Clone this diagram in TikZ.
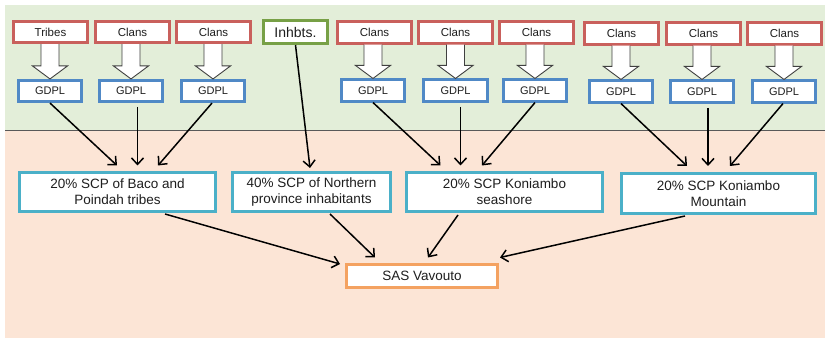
\documentclass[tikz,border=0pt]{standalone}
\usepackage{fontspec}
\setmainfont{Liberation Sans}
\usetikzlibrary{arrows.meta,calc}

\definecolor{bggreen}{HTML}{E3EED9}
\definecolor{bgorange}{HTML}{FCE5D6}
\definecolor{clanred}{HTML}{C9605C}
\definecolor{inhgreen}{HTML}{77A046}
\definecolor{gdplblue}{HTML}{5089C6}
\definecolor{scpcyan}{HTML}{4BB0C8}
\definecolor{sasorange}{HTML}{F4A261}
\definecolor{txt}{HTML}{1E1E1E}

\tikzset{
  box/.style={draw, fill=white, line width=2.6pt, inner sep=0pt, align=center, text=txt},
  clan/.style={box, draw=clanred, minimum width=74pt, minimum height=21.5pt, font=\fontsize{11.5}{13}\selectfont},
  inhab/.style={box, draw=inhgreen, minimum width=64pt, minimum height=23.5pt, font=\fontsize{14}{16}\selectfont},
  gdpl/.style={box, draw=gdplblue, minimum width=63.5pt, minimum height=21.5pt, font=\fontsize{11}{12}\selectfont},
  scp/.style={box, draw=scpcyan, minimum height=39.5pt, font=\fontsize{13.5}{16}\selectfont},
  sas/.style={box, draw=sasorange, minimum width=151.5pt, minimum height=23.5pt, font=\fontsize{13.5}{16}\selectfont},
  link/.style={draw=black, line width=1.5pt, -{Straight Barb[length=6.5pt,width=12pt,line width=1.5pt]}},
  blockarr/.style={draw=black!75, line width=0.9pt, fill=white},
}

% hollow block arrow from a clan box down to its GDPL box
\newcommand{\clanarrow}[2]{%
  \path[blockarr] let \p1=(#1.south), \p2=(#2.north) in
    (\x2-9pt,\y1) -- (\x2-9pt,\y2+13pt) -- (\x2-17.5pt,\y2+13pt) -- (\x2,\y2)
    -- (\x2+17.5pt,\y2+13pt) -- (\x2+9pt,\y2+13pt) -- (\x2+9pt,\y1);
}

\begin{document}
\begin{tikzpicture}[x=1pt,y=-1pt]
  \useasboundingbox (0,0) rectangle (825,339);
  \fill[white] (0,0) rectangle (825,339);
  % two background bands
  \fill[bggreen] (5,5) rectangle (825,131);
  \fill[bgorange] (5,131) rectangle (825,338);
  \draw[black!65, line width=1pt] (5,131) -- (825,131);

  % owners
  \node[clan] (r1) at (50.5,32) {Tribes};
  \node[clan] (r2) at (132.5,32) {Clans};
  \node[clan] (r3) at (213.5,32) {Clans};
  \node[inhab] (inh) at (295.5,32) {Inhbts.};
  \node[clan] (r4) at (374.5,32.5) {Clans};
  \node[clan] (r5) at (455.5,32.5) {Clans};
  \node[clan] (r6) at (536.5,32.5) {Clans};
  \node[clan] (r7) at (621.5,33.5) {Clans};
  \node[clan] (r8) at (703.5,33.5) {Clans};
  \node[clan] (r9) at (784.5,33.5) {Clans};

  % GDPL groups
  \node[gdpl] (g1) at (50,91) {GDPL};
  \node[gdpl] (g2) at (131,91) {GDPL};
  \node[gdpl] (g3) at (213,91) {GDPL};
  \node[gdpl] (g4) at (373,90.5) {GDPL};
  \node[gdpl] (g5) at (455.5,90.5) {GDPL};
  \node[gdpl] (g6) at (535,90.5) {GDPL};
  \node[gdpl] (g7) at (621,91.5) {GDPL};
  \node[gdpl] (g8) at (702,91.5) {GDPL};
  \node[gdpl] (g9) at (784,91.5) {GDPL};

  \foreach \i in {1,...,9} { \clanarrow{r\i}{g\i} }

  % companies
  \node[scp, minimum width=196pt] (m1) at (117.5,192) {20\% SCP of Baco and\\Poindah tribes};
  \node[scp, minimum width=158pt] (m2) at (311.5,192) {40\% SCP of Northern\\province inhabitants};
  \node[scp, minimum width=196pt] (m3) at (504.5,192) {20\% SCP Koniambo\\seashore};
  \node[scp, minimum width=194pt] (m4) at (718.5,193.5) {20\% SCP Koniambo\\Mountain};
  \node[sas] (sas) at (422,276) {SAS Vavouto};

  % start and end points of the links
  \coordinate (g2s) at (137.5,107);
  \coordinate (g5s) at (460.5,107);
  \coordinate (g8s) at (708,108);
  \coordinate (m1a) at (117,165.5);
  \coordinate (m1b) at (137.5,165.5);
  \coordinate (m1c) at (158,165.5);
  \coordinate (m2a) at (310,168);
  \coordinate (m3a) at (440.5,165.5);
  \coordinate (m3b) at (460.5,165.5);
  \coordinate (m3c) at (482,165.5);
  \coordinate (m4a) at (687,166);
  \coordinate (m4b) at (708,166);
  \coordinate (m4c) at (730,166);
  \coordinate (m1s) at (165,214);
  \coordinate (m2s) at (330,214);
  \coordinate (m3s) at (458,215);
  \coordinate (m4s) at (685,216);
  \coordinate (sa) at (340,264);
  \coordinate (sb) at (375,257.5);
  \coordinate (sc) at (428,257.5);
  \coordinate (sd) at (500,257.5);

  \draw[link] (g1.south) -- (m1a);
  \draw[link] (g2s) -- (m1b);
  \draw[link] ([xshift=-1pt]g3.south) -- (m1c);
  \draw[link] (inh.south) -- (m2a);
  \draw[link] (g4.south) -- (m3a);
  \draw[link] (g5s) -- (m3b);
  \draw[link] (g6.south) -- (m3c);
  \draw[link] (g7.south) -- (m4a);
  \draw[link] (g8s) -- (m4b);
  \draw[link] ([xshift=-1pt]g9.south) -- (m4c);

  \draw[link] (m1s) -- (sa);
  \draw[link] (m2s) -- (sb);
  \draw[link] (m3s) -- (sc);
  \draw[link] (m4s) -- (sd);
\end{tikzpicture}
\end{document}
